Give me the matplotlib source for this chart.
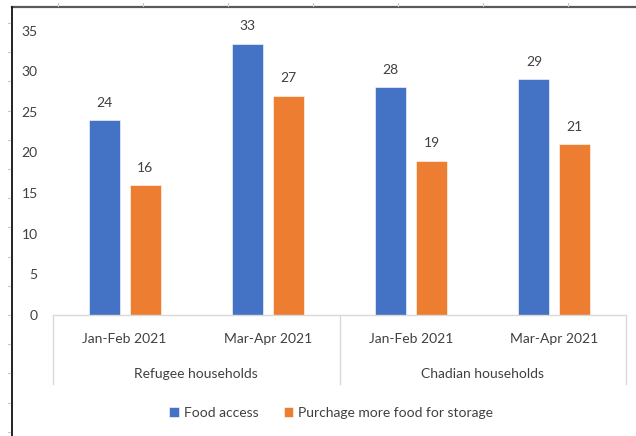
import numpy as np
import matplotlib
matplotlib.use("Agg")
from matplotlib import pyplot as plt
from matplotlib.lines import Line2D

plt.rcParams["font.family"] = ["Lato", "DejaVu Sans"]

periods = ["Jan-Feb 2021", "Mar-Apr 2021", "Jan-Feb 2021", "Mar-Apr 2021"]
groups = ["Refugee households", "Chadian households"]
series_names = ["Food access", "Purchage more food for storage"]
food_access = [24, 33.4, 28, 29]
purchase_storage = [16, 27, 19, 21]
colors = ["#4472C4", "#ED7D31"]
yticks = [0, 5, 10, 15, 20, 25, 30, 35]

text_col = "#404040"
axis_col = "#D9D9D9"
fs = 10

fig = plt.figure(figsize=(6.36, 4.36), dpi=100)
ax = fig.add_axes([53 / 636, 1 - 315 / 436, (626 - 53) / 636, (315 - 30.5) / 436])

x = np.arange(len(periods))
w = 0.217
off = 0.143
for vals, dx, col, name in zip([food_access, purchase_storage], [-off, off], colors, series_names):
    bars = ax.bar(x + dx, vals, width=w, color=col, label=name, edgecolor="white", linewidth=0.4)
    for b, v in zip(bars, vals):
        ax.annotate(f"{v:.0f}", (b.get_x() + b.get_width() / 2, v), xytext=(0, 8),
                    textcoords="offset points", ha="center", va="bottom",
                    fontsize=fs, color=text_col)

ax.set_xlim(-0.5, len(periods) - 0.5)
ax.set_ylim(0, 35)
ax.set_yticks(yticks)
ax.tick_params(axis="y", length=0, pad=11, labelsize=fs, labelcolor=text_col)
ax.set_xticks([])
for s in ax.spines.values():
    s.set_visible(False)

# multi-level category axis
trans = ax.get_xaxis_transform()
hpx = 315 - 30.5
ax.plot([-0.5, 3.5], [0, 0], color=axis_col, lw=1, transform=trans, clip_on=False)
for xv in [-0.5, 1.5, 3.5]:
    ax.plot([xv, xv], [0, -69 / hpx], color=axis_col, lw=1, transform=trans, clip_on=False)
for xi, p in zip(x, periods):
    ax.text(xi, -24 / hpx, p, ha="center", va="center", fontsize=fs,
            color=text_col, transform=trans)
for gi, g in enumerate(groups):
    ax.text(gi * 2 + 0.5, -59 / hpx, g, ha="center", va="center", fontsize=fs,
            color=text_col, transform=trans)

fig.legend(loc="center", bbox_to_anchor=(0.521, 0.053), ncol=2, frameon=False,
           fontsize=fs, labelcolor=text_col, handlelength=0.7, handleheight=0.7,
           handletextpad=0.35, columnspacing=1.8)

# spreadsheet frame around the chart
fig.add_artist(Line2D([11.5 / 636, 1], [1 - 7.5 / 436] * 2, color="#595959", lw=1.6))
fig.add_artist(Line2D([11.5 / 636] * 2, [0, 1 - 7.5 / 436], color="#111111", lw=1.3))
for px in np.arange(58, 636, 85):
    fig.add_artist(Line2D([px / 636] * 2, [1 - 3.5 / 436, 1 - 6.5 / 436], color="#C8C8C8", lw=0.8))
for py in np.arange(23, 436, 29.2):
    fig.add_artist(Line2D([7.5 / 636, 10 / 636], [1 - py / 436] * 2, color="#C8C8C8", lw=0.8))

fig.savefig("out.png", dpi=100, facecolor="white")
